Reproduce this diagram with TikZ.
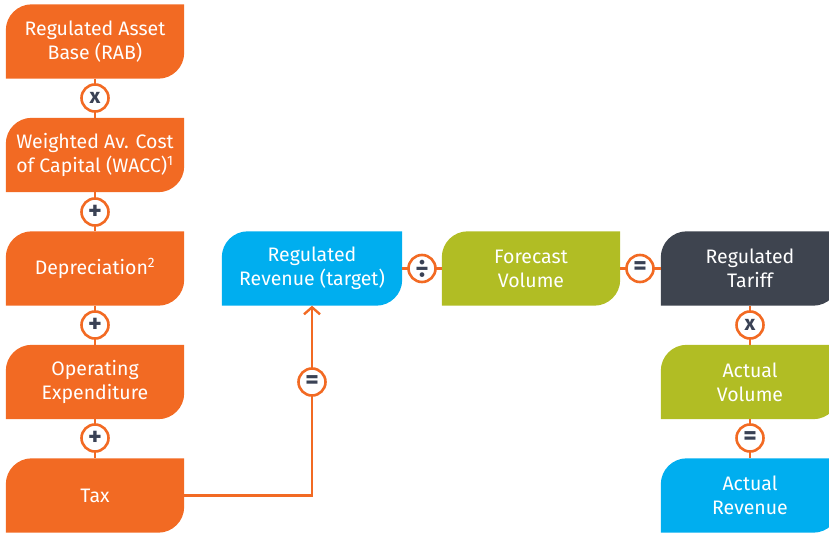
\documentclass[tikz,border=0pt]{standalone}
\usepackage{fontspec}
\setmainfont{Fira Sans}
\usetikzlibrary{arrows.meta,backgrounds}
\definecolor{corg}{HTML}{F26A23}
\definecolor{cblue}{HTML}{00AEEF}
\definecolor{cgreen}{HTML}{B1BD24}
\definecolor{cdark}{HTML}{3E444F}
\definecolor{csym}{HTML}{3A4255}
\tikzset{
  box/.style={minimum width=178pt,minimum height=74pt,inner sep=0pt,text=white,align=center,font=\fontsize{19.5}{24}\selectfont},
  op/.style={circle,draw=corg,line width=2.6pt,fill=white,minimum size=27pt,inner sep=0pt,text=csym,font=\bfseries\fontsize{26}{26}\selectfont},
  opx/.style={op,font=\bfseries\fontsize{21}{21}\selectfont},
  link/.style={draw=corg,line width=2.4pt},
}
\newcommand\boxfill[2]{\fill[#2] (#1.south west) -- ([yshift=-26pt]#1.north west) arc[start angle=180,end angle=90,radius=26pt] -- (#1.north east) -- ([yshift=26pt]#1.south east) arc[start angle=0,end angle=-90,radius=26pt] -- cycle;}
\begin{document}
\begin{tikzpicture}[x=1pt,y=1pt]
\useasboundingbox (0,0) rectangle (829,536);
\clip (0,0) rectangle (829,536);
% left column
\node[box] (rab) at (95,494.5) {Regulated Asset\\Base (RAB)};
\node[box] (wacc) at (95,381) {Weighted Av. Cost\\of Capital (WACC)\textsuperscript{1}};
\node[box] (dep) at (95,267.5) {Depreciation\textsuperscript{2}};
\node[box] (opex) at (95,154) {Operating\\Expenditure};
\node[box] (tax) at (95,40.5) {Tax};
% middle row
\node[box,minimum width=180pt] (rev) at (312,267.5) {Regulated\\Revenue (target)};
\node[box] (fv) at (531,267.5) {Forecast\\Volume};
\node[box] (tar) at (750,267.5) {Regulated\\Tariff};
\node[box] (av) at (750,154) {Actual\\Volume};
\node[box] (ar) at (750,40.5) {Actual\\Revenue};
\begin{scope}[on background layer]
\boxfill{rab}{corg}
\boxfill{wacc}{corg}
\boxfill{dep}{corg}
\boxfill{opex}{corg}
\boxfill{tax}{corg}
\boxfill{rev}{cblue}
\boxfill{fv}{cgreen}
\boxfill{tar}{cdark}
\boxfill{av}{cgreen}
\boxfill{ar}{cblue}
\draw[link] (rab) -- (wacc);
\draw[link] (wacc) -- (dep);
\draw[link] (dep) -- (opex);
\draw[link] (opex) -- (tax);
\draw[link] (rev) -- (fv);
\draw[link] (fv) -- (tar);
\draw[link] (tar) -- (av);
\draw[link] (av) -- (ar);
\draw[link,-{Straight Barb[length=7pt,width=16pt,line width=2.4pt]}] (tax.east) -| (rev.south);
\end{scope}
% operators
\node[opx] (o1) at (95,438) {x};
\node[op] (o2) at (95,324) {+};
\node[op] (o3) at (95,211) {+};
\node[op] (o4) at (95,98) {+};
\node[op] (o5) at (312,154) {=};
\node[op] (o6) at (422,267.5) {÷};
\node[op] (o7) at (640,267.5) {=};
\node[opx] (o8) at (750,211) {x};
\node[op] (o9) at (750,98) {=};
\end{tikzpicture}
\end{document}
